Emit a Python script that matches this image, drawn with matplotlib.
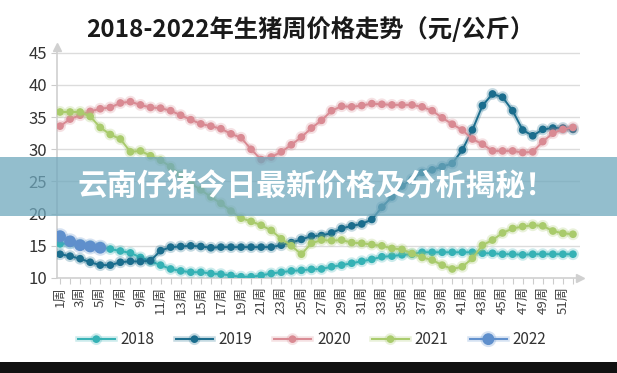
import matplotlib

matplotlib.use("Agg")
import matplotlib.pyplot as plt
import matplotlib.patheffects as pe
from matplotlib.patches import Rectangle

plt.rcParams["font.family"] = ["Noto Sans CJK SC", "DejaVu Sans"]

weeks = list(range(1, 53))
week_labels = [f"{w}周" if w % 2 == 1 else "" for w in weeks]

y2018 = [15.3, 15.4, 15.2, 15.0, 14.8, 14.5, 14.2, 13.9, 13.2, 12.6, 12.0, 11.4, 11.1,
         10.9, 10.9, 10.7, 10.6, 10.4, 10.2, 10.2, 10.4, 10.7, 10.9, 11.1, 11.2, 11.35,
         11.4, 11.75, 12.0, 12.3, 12.6, 12.9, 13.3, 13.4, 13.6, 13.7, 14.0, 14.0, 14.0,
         14.0, 14.0, 14.0, 13.85, 13.85, 13.7, 13.7, 13.6, 13.7, 13.7, 13.7, 13.7, 13.7]
y2019 = [13.7, 13.4, 13.0, 12.45, 12.0, 12.0, 12.45, 12.6, 12.55, 12.7, 14.25, 14.8, 14.9,
         15.0, 14.9, 14.7, 14.8, 14.8, 14.8, 14.8, 14.8, 14.8, 15.1, 15.5, 16.0, 16.5,
         16.6, 17.0, 17.7, 18.1, 18.4, 19.1, 21.0, 22.6, 24.3, 25.35, 26.4, 26.8, 27.3,
         27.8, 29.9, 33.0, 36.8, 38.6, 38.1, 36.0, 33.0, 32.1, 33.1, 33.3, 33.3, 33.1]
y2020 = [33.6, 34.7, 35.3, 35.9, 36.3, 36.5, 37.2, 37.4, 36.9, 36.5, 36.4, 36.0, 35.3,
         34.6, 33.95, 33.6, 33.2, 32.4, 31.8, 30.0, 28.4, 28.8, 29.6, 30.7, 31.9, 33.3,
         34.5, 36.0, 36.7, 36.6, 36.8, 37.1, 37.0, 36.9, 36.9, 36.9, 36.6, 36.0, 34.9,
         33.9, 33.0, 31.6, 30.8, 29.75, 29.75, 29.75, 29.5, 29.6, 31.2, 32.5, 33.1, 33.4]
y2021 = [35.8, 35.8, 35.8, 35.1, 33.4, 32.3, 31.6, 29.6, 29.75, 29.0, 28.3, 27.3, 26.0,
         24.7, 23.7, 22.6, 21.6, 20.4, 19.3, 18.8, 18.2, 17.4, 16.1, 15.0, 13.7, 15.4,
         15.9, 15.8, 15.9, 15.5, 15.4, 15.2, 15.0, 14.6, 14.45, 13.8, 13.2, 12.8, 12.0,
         11.4, 11.75, 13.05, 15.1, 15.9, 17.0, 17.7, 18.0, 18.2, 18.1, 17.3, 16.95, 16.8]
y2022 = [16.5, 15.7, 15.1, 14.9, 14.7]

series = [
    ("2018", y2018, "#35b2b5", 4.5),
    ("2019", y2019, "#1b6d8d", 4.5),
    ("2020", y2020, "#d98a93", 4.5),
    ("2021", y2021, "#a9cb6c", 4.5),
    ("2022", y2022, "#5f8fcc", 7.5),
]

fig = plt.figure(figsize=(6.17, 3.73), dpi=100)
ax = fig.add_axes([57 / 617, 95 / 373, 523 / 617, 231 / 373])

for name, vals, color, ms in series:
    ax.plot(weeks[:len(vals)], vals, color=color, lw=1.4, marker="o", ms=ms,
            mec=color, label=name, zorder=3,
            path_effects=[pe.Stroke(linewidth=4, foreground=color, alpha=0.25), pe.Normal()])

ax.set_xlim(0.7, 52.7)
ax.set_ylim(10, 45.9)
ax.set_yticks(range(10, 50, 5))
ax.set_yticklabels([str(v) for v in range(10, 50, 5)], fontsize=12, color="#333333")
for v in range(15, 50, 5):
    ax.axhline(v, color="#dcdcdc", lw=1, zorder=1)

ax.set_xticks(weeks)
ax.set_xticklabels(week_labels, rotation=90, fontsize=9.5, color="#444444", va="top")
ax.tick_params(axis="x", length=4, color="#cccccc", pad=2)
ax.tick_params(axis="y", length=4, color="#cccccc", pad=3)

for side in ["top", "right"]:
    ax.spines[side].set_visible(False)
for side in ["left", "bottom"]:
    ax.spines[side].set_color("#d0d0d0")
    ax.spines[side].set_linewidth(1.2)
ax.plot([0], [1], marker="^", color="#d0d0d0", ms=6, transform=ax.transAxes, clip_on=False)
ax.plot([1], [0], marker=">", color="#d0d0d0", ms=6, transform=ax.transAxes, clip_on=False)

fig.text(0.503, 0.922, "2018-2022年生猪周价格走势（元/公斤）", fontsize=17.5,
         fontweight="bold", ha="center", va="center", color="#1a1a1a")

fig.legend(loc="center", bbox_to_anchor=(0.506, 0.0885), ncol=5, frameon=False,
           fontsize=11, handlelength=2.4, columnspacing=1.4, handletextpad=0.4,
           labelcolor="#333333")

# overlay banner and bottom band
fig.patches.append(Rectangle((0, 0.422), 1, 0.157, transform=fig.transFigure,
                             facecolor="#6fa8bd", alpha=0.75, zorder=5))
fig.text(0.513, 0.501, "云南仔猪今日最新价格及分析揭秘！", fontsize=21.5, fontweight="heavy",
         color="white", ha="center", va="center", zorder=6)
fig.patches.append(Rectangle((0, 0), 1, 0.0295, transform=fig.transFigure,
                             facecolor="#111111", zorder=5))

fig.savefig("out.png", dpi=100)
